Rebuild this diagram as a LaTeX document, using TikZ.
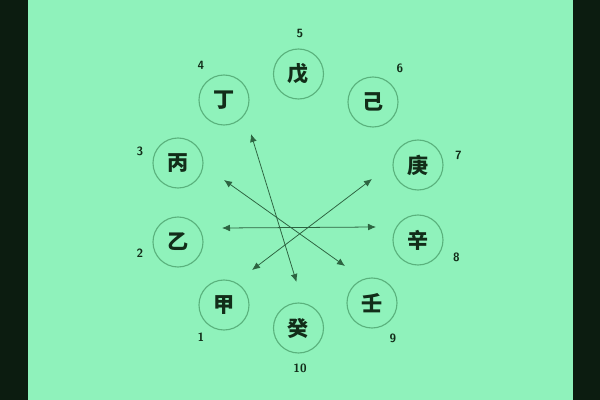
\documentclass[tikz,border=0pt]{standalone}
\usepackage{fontspec}
\newfontfamily\cjk{Noto Sans CJK SC}
\usetikzlibrary{arrows.meta,calc}
\definecolor{mint}{RGB}{143,242,187}
\definecolor{frame}{RGB}{12,28,16}
\definecolor{ring}{RGB}{90,178,125}
\definecolor{ink}{RGB}{18,45,25}
\definecolor{arrowink}{RGB}{45,100,65}
\tikzset{
 stem/.style={draw=ring,circle,minimum size=1.25cm,inner sep=0pt,line width=0.8pt,font=\cjk\bfseries\fontsize{15}{15}\selectfont,text=ink},
 num/.style={font=\sffamily\bfseries\fontsize{8.5}{8.5}\selectfont,text=ink,inner sep=0pt},
 link/.style={{Latex[length=2mm,width=1.7mm]}-{Latex[length=2mm,width=1.7mm]},draw=arrowink,line width=0.55pt}
}

\begin{document}
\begin{tikzpicture}[x=0.025cm,y=-0.025cm]
\fill[frame] (0,0) rectangle (600,400);
\fill[mint] (28,0) rectangle (573,400);
\useasboundingbox (0,0) rectangle (600,400);
% the ten stems
\node[stem] (jia) at (224,305) {甲};
\node[stem] (yi) at (178,242) {乙};
\node[stem] (bing) at (178,163) {丙};
\node[stem] (ding) at (224,100) {丁};
\node[stem] (wu) at (298.5,74) {戊};
\node[stem] (ji) at (373,102) {己};
\node[stem] (geng) at (418,165) {庚};
\node[stem] (xin) at (418,240) {辛};
\node[stem] (ren) at (372,303) {壬};
\node[stem] (gui) at (298.5,328) {癸};
% their numbers
\node[num] (n1) at (201,337) {1};
\node[num] (n2) at (140,253) {2};
\node[num] (n3) at (140,151) {3};
\node[num] (n4) at (201,65) {4};
\node[num] (n5) at (300,33) {5};
\node[num] (n6) at (400,68) {6};
\node[num] (n7) at (458.5,155) {7};
\node[num] (n8) at (456.5,257) {8};
\node[num] (n9) at (393,338) {9};
\node[num] (n10) at (300,368) {10};
% pairings
\draw[link] ($(ding)+(27,34)$) -- ($(gui)+(-2,-46)$);
\draw[link] ($(bing)+(46,17)$) -- ($(ren)+(-27,-37)$);
\draw[link] ($(yi)+(44,-14)$) -- ($(xin)+(-42,-13)$);
\draw[link] ($(geng)+(-46,14)$) -- ($(jia)+(28,-35)$);
\end{tikzpicture}
\end{document}
